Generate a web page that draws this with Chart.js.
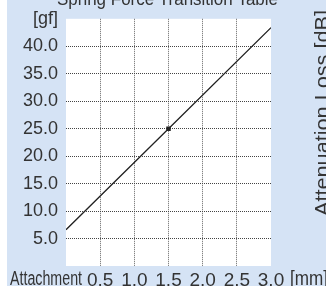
<!DOCTYPE html>
<html>
<head>
<meta charset="utf-8">
<script src="https://cdn.jsdelivr.net/npm/chart.js@4/dist/chart.umd.min.js"></script>
<style>
  html, body { margin: 0; padding: 0; background: #ffffff; }
  #wrap { width: 326px; height: 286px; position: relative; }
</style>
</head>
<body>
<div id="wrap"><canvas id="c" width="326" height="286"></canvas></div>
<script>
// Data
const attachmentMm = [0.0, 1.5, 3.0];
const springForceGf = [6.6, 25.0, 43.4];
const markerRadius = [0, 3.2, 0];
const yTickValues = [5, 10, 15, 20, 25, 30, 35, 40];
const xTickValues = [0.5, 1.0, 1.5, 2.0, 2.5, 3.0];
const titleText = 'Spring Force Transition Table';
const yUnitLabel = '[gf]';
const xNameLabel = 'Attachment';
const xUnitLabel = '[mm]';
const rightAxisLabel = 'Attenuation Loss [dB]';

const BLUE = '#d5e3f5';
const TEXT = '#333333';
const FONT = '"Liberation Sans", Arial, sans-serif';

function fitText(ctx, text, x, y, targetWidth) {
  const w = ctx.measureText(text).width;
  ctx.save();
  ctx.translate(x, y);
  ctx.scale(targetWidth / w, 1);
  ctx.fillText(text, 0, 0);
  ctx.restore();
}

const bgPlugin = {
  id: 'bg',
  beforeDraw(chart) {
    const { ctx, chartArea: a, width, height } = chart;
    ctx.save();
    ctx.fillStyle = '#ffffff';
    ctx.fillRect(0, 0, width, height);
    ctx.fillStyle = BLUE;
    ctx.fillRect(7, 0, width - 7, height);
    ctx.fillStyle = '#ffffff';
    ctx.fillRect(a.left, a.top, a.right - a.left, a.bottom - a.top);
    ctx.restore();
  },
  afterDraw(chart) {
    const { ctx } = chart;
    ctx.save();
    ctx.fillStyle = TEXT;
    ctx.textAlign = 'left';
    ctx.textBaseline = 'alphabetic';
    // title
    ctx.font = '18px ' + FONT;
    fitText(ctx, titleText, 57, 4.5, 221);
    // x axis name & unit
    ctx.font = '20px ' + FONT;
    fitText(ctx, xNameLabel, 10, 285, 72);
    fitText(ctx, xUnitLabel, 290, 285, 38);
    // right axis label
    ctx.font = '21px ' + FONT;
    ctx.translate(329, 216);
    ctx.rotate(-Math.PI / 2);
    fitText(ctx, rightAxisLabel, 0, 0, 206);
    ctx.restore();
  }
};

new Chart(document.getElementById('c'), {
  type: 'scatter',
  data: {
    datasets: [{
      data: attachmentMm.map((x, i) => ({ x: x, y: springForceGf[i] })),
      showLine: true,
      borderColor: '#222222',
      borderWidth: 1.3,
      pointStyle: 'rect',
      pointRadius: markerRadius,
      pointHoverRadius: markerRadius,
      pointBackgroundColor: '#222222',
      pointBorderColor: '#222222',
      pointBorderWidth: 0,
      tension: 0
    }]
  },
  options: {
    responsive: false,
    animation: false,
    devicePixelRatio: 1,
    layout: { padding: { left: 0, right: 55, top: 14, bottom: 0 } },
    plugins: { legend: { display: false }, tooltip: { enabled: false }, title: { display: false } },
    scales: {
      x: {
        type: 'linear',
        min: 0, max: 3,
        afterBuildTicks(scale) { scale.ticks = [0].concat(xTickValues).map(v => ({ value: v })); },
        afterFit(scale) { scale.height = 20; },
        border: { display: false, dash: [1, 1] },
        grid: {
          drawTicks: false,
          color: (c) => (c.tick && c.tick.value > 0 && c.tick.value < 3) ? '#666666' : 'rgba(0,0,0,0)',
          lineWidth: 1
        },
        ticks: {
          padding: 3,
          color: TEXT,
          font: { family: FONT, size: 19 },
          maxRotation: 0,
          autoSkip: false,
          callback: (v) => v === 0 ? '' : Number(v).toFixed(1)
        }
      },
      y: {
        type: 'linear',
        min: 0, max: 45,
        afterBuildTicks(scale) { scale.ticks = [0].concat(yTickValues, [45]).map(v => ({ value: v })); },
        afterFit(scale) { scale.width = 66; },
        border: { display: false, dash: [1, 1] },
        grid: {
          drawTicks: false,
          color: (c) => (c.tick && c.tick.value > 0 && c.tick.value < 45) ? '#444444' : 'rgba(0,0,0,0)',
          lineWidth: 1
        },
        ticks: {
          padding: 8,
          color: TEXT,
          font: { family: FONT, size: 18 },
          autoSkip: false,
          callback: (v) => v === 0 ? '' : (v === 45 ? yUnitLabel : Number(v).toFixed(1))
        }
      }
    }
  },
  plugins: [bgPlugin]
});
</script>
</body>
</html>
